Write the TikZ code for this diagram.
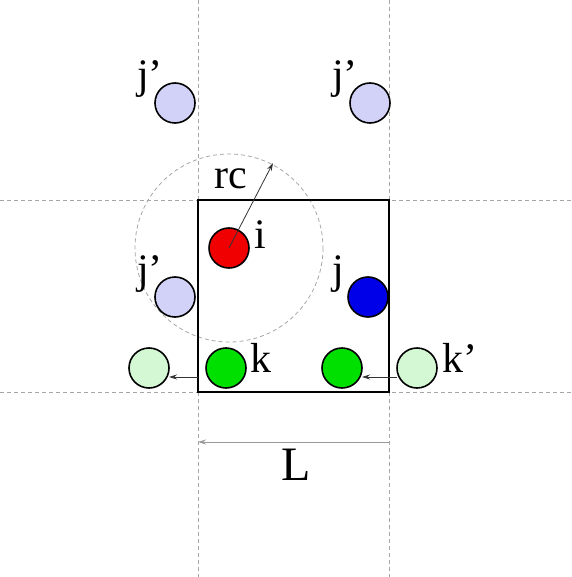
\documentclass[tikz,border=0pt]{standalone}
\usepackage{fontspec}
\setmainfont{Liberation Serif}
\usetikzlibrary{arrows.meta}
\definecolor{lblue}{HTML}{D2D2F8}
\definecolor{lgreen}{HTML}{D4F8D4}
\definecolor{fred}{HTML}{F00000}
\definecolor{fblue}{HTML}{0000E8}
\definecolor{fgreen}{HTML}{00E000}
\begin{document}
\begin{tikzpicture}[x=1pt,y=-1pt,
  grid/.style={draw=gray!70,line width=0.8pt,dash pattern=on 4pt off 3pt},
  cutoff/.style={draw=gray!70,line width=0.8pt,dash pattern=on 4pt off 3pt},
  atom/.style={circle,draw=black,line width=1.6pt,minimum size=40pt,inner sep=0pt},
  lab/.style={anchor=base west,inner sep=0pt,font=\fontsize{42}{48}\selectfont},
  arr/.style={draw=black!80,line width=0.8pt,-{Stealth[length=8pt,width=5pt]}}]
\useasboundingbox (0,0) rectangle (571,577);
% periodic grid
\draw[grid] (198,0) -- (198,577);
\draw[grid] (389,0) -- (389,577);
\draw[grid] (0,200) -- (571,200);
\draw[grid] (0,392) -- (571,392);
% cutoff circle
\draw[cutoff] (229,248) circle (94);
% box
\draw[line width=1.8pt] (198,200) rectangle (389,392);
% atoms
\node[atom,fill=lblue] (jtl) at (175,103) {};
\node[atom,fill=lblue] (jtr) at (370,103) {};
\node[atom,fill=fred] (i) at (229,248) {};
\node[atom,fill=lblue] (jl) at (175,297) {};
\node[atom,fill=fblue] (j) at (368,297) {};
\node[atom,fill=lgreen] (kl) at (149,368) {};
\node[atom,fill=fgreen] (k) at (226,368) {};
\node[atom,fill=fgreen] (kr) at (342,368) {};
\node[atom,fill=lgreen] (kp) at (417,368) {};
% coordinates for connectors
\coordinate (rcend) at (273,163);
\coordinate (boxL) at (198,377);
\coordinate (klend) at (169,377);
\coordinate (kpstart) at (397,377);
\coordinate (krend) at (362,377);
\coordinate (Lr) at (389,442);
\coordinate (Ll) at (198,442);
% arrows
\draw[arr] (i.center) -- (rcend);
\draw[arr] (boxL) -- (klend);
\draw[arr] (kpstart) -- (krend);
\draw[draw=gray!80,line width=0.8pt,-{Stealth[length=8pt,width=5pt]}] (Lr) -- (Ll);
% labels
\node[lab] (ljtl) at (137,89) {j’};
\node[lab] (ljtr) at (332,89) {j’};
\node[lab] (ljl) at (137,283) {j’};
\node[lab] (lj) at (332,283) {j};
\node[lab] (li) at (254,248) {i};
\node[lab] (lk) at (250,372) {k};
\node[lab] (lkp) at (442,372) {k’};
\node[lab] (lrc) at (214,189) {rc};
\node[lab,font=\fontsize{48}{54}\selectfont] (lL) at (281,480) {L};
\end{tikzpicture}
\end{document}
